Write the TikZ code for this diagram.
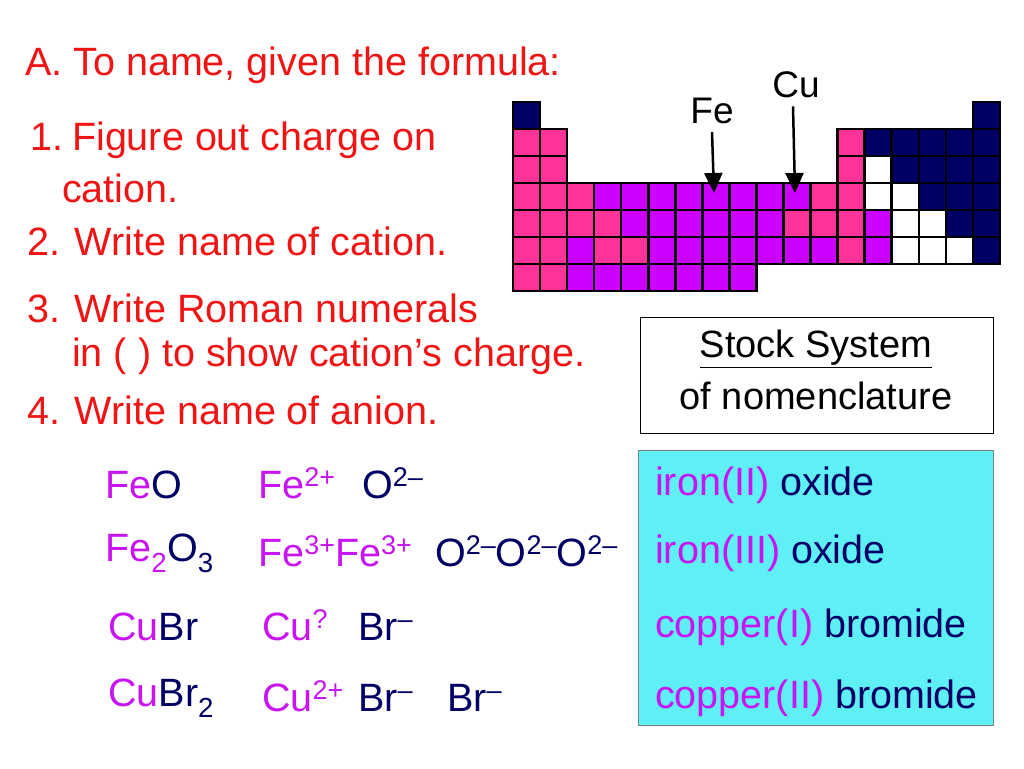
\documentclass[tikz,border=0pt]{standalone}
\usepackage{fontspec}
\setmainfont{Liberation Sans}
\usetikzlibrary{arrows.meta}
\newcommand{\chg}[1]{\raisebox{0.3em}{\fontsize{27}{30}\selectfont #1}}
\begin{document}
\begin{tikzpicture}[x=1pt,y=-1pt,
  t/.style={anchor=west,inner sep=0pt,font=\fontsize{39.5}{44}\selectfont},
  red/.style={t,text=myred},
  cell/.style={draw=black,line width=2.5pt},
  arr/.style={line width=2.5pt,-{Triangle[length=20pt,width=18pt]}}]
\definecolor{myred}{RGB}{240,20,20}
\definecolor{mag}{RGB}{200,20,240}
\definecolor{navy}{RGB}{0,0,100}
\definecolor{pk}{RGB}{255,51,153}
\definecolor{pu}{RGB}{204,0,255}
\definecolor{cy}{RGB}{95,240,245}
\colorlet{cN}{navy}\colorlet{cP}{pk}\colorlet{cU}{pu}\colorlet{cW}{white}
\useasboundingbox (0,0) rectangle (1024,768);
\fill[white] (0,0) rectangle (1024,768);
% text left
\node[red] (a) at (25,65) {A. To name, given the formula:};
\node[red] (s1) at (30,140) {1.\hspace{9pt}Figure out charge on};
\node[red] (s1b) at (62,188) {cation.};
\node[red] (s2) at (27,241) {2. Write name of cation.};
\node[red] (s3) at (27,308) {3. Write Roman numerals};
\node[red] (s3b) at (72,356) {in ( ) to show cation’s charge.};
\node[red] (s4) at (27,410) {4. Write name of anion.};
% periodic table
\def\cw{27.05}\def\ch{27}
\foreach \r/\list in {
 1/{1/N,18/N},
 2/{1/P,2/P,13/P,14/N,15/N,16/N,17/N,18/N},
 3/{1/P,2/P,13/P,14/W,15/N,16/N,17/N,18/N},
 4/{1/P,2/P,3/P,4/U,5/U,6/U,7/U,8/U,9/U,10/U,11/U,12/P,13/P,14/W,15/W,16/N,17/N,18/N},
 5/{1/P,2/P,3/P,4/P,5/U,6/U,7/U,8/U,9/U,10/U,11/P,12/P,13/P,14/U,15/W,16/W,17/N,18/N},
 6/{1/P,2/P,3/U,4/P,5/P,6/U,7/U,8/U,9/U,10/U,11/U,12/U,13/P,14/U,15/W,16/W,17/W,18/N},
 7/{1/P,2/P,3/U,4/U,5/U,6/U,7/U,8/U,9/U}}{
  \foreach \c/\k in \list {
    \draw[cell,fill=c\k] ({513+(\c-1)*\cw},{102+(\r-1)*\ch}) rectangle ++(\cw,\ch);
  }}
\node[inner sep=0pt,font=\fontsize{37}{40}\selectfont] (fe) at (712,111) {Fe};
\node[inner sep=0pt,font=\fontsize{37}{40}\selectfont] (cu) at (796,85) {Cu};
\coordinate (fet) at (714,193);
\coordinate (cut) at (795,193);
\draw[arr] ([yshift=-8pt]fe.south) -- (fet);
\draw[arr] ([xshift=-3pt,yshift=-8pt]cu.south) -- (cut);
% stock box
\draw[line width=1pt] (640,317) rectangle (993,433);
\node[inner sep=0pt,font=\fontsize{38}{44}\selectfont] (st) at (816,349) {\underline{Stock System}};
\node[inner sep=0pt,font=\fontsize{38}{44}\selectfont] (nm) at (816,396) {of nomenclature};
% cyan box
\draw[fill=cy,draw=gray,line width=0.8pt] (638,450) rectangle (993,725);
\node[t,text=mag] (n1) at (655,485) {iron(II) \textcolor{navy}{oxide}};
\node[t,text=mag] (n2) at (655,553) {iron(III) \textcolor{navy}{oxide}};
\node[t,text=mag] (n3) at (655,627) {copper(I) \textcolor{navy}{bromide}};
\node[t,text=mag] (n4) at (655,698) {copper(II) \textcolor{navy}{bromide}};
% formulas
\node[t,text=mag] (f1) at (105,485) {Fe\textcolor{navy}{O}};
\node[t,text=mag] (f2) at (105,553) {Fe\textsubscript{2}\textcolor{navy}{O\textsubscript{3}}};
\node[t,text=mag] (f3) at (108,627) {Cu\textcolor{navy}{Br}};
\node[t,text=mag] (f4) at (108,698) {Cu\textcolor{navy}{Br\textsubscript{2}}};
% ions
\node[t,text=mag,anchor=base west] (i1) at (258,498) {Fe\chg{2+}};
\node[t,text=navy,anchor=base west] (i2) at (362,498) {O\chg{2–}};
\node[t,text=mag,anchor=base west] (i3) at (258,566) {Fe\chg{3+}Fe\chg{3+}};
\node[t,text=navy,anchor=base west] (i4) at (435,566) {O\chg{2–}O\chg{2–}O\chg{2–}};
\node[t,text=mag,anchor=base west] (i5) at (262,640) {Cu\chg{?}};
\node[t,text=navy,anchor=base west] (i6) at (358,640) {Br\chg{–}};
\node[t,text=mag,anchor=base west] (i7) at (262,711) {Cu\chg{2+}};
\node[t,text=navy,anchor=base west] (i8) at (358,711) {Br\chg{–}};
\node[t,text=navy,anchor=base west] (i9) at (447,711) {Br\chg{–}};
\end{tikzpicture}
\end{document}
